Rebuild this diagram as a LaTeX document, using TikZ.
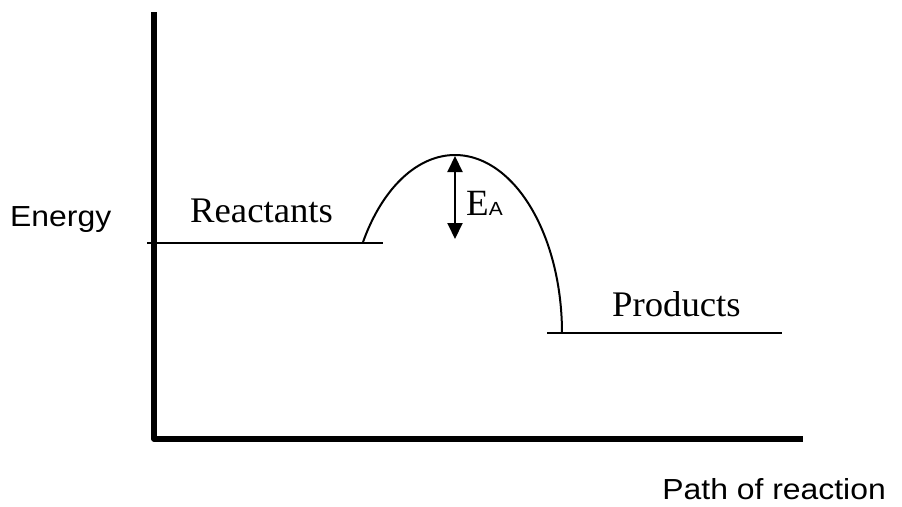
\documentclass[tikz,border=0pt]{standalone}
\usepackage{fontspec}
\setmainfont{Liberation Serif}
\newfontfamily\arialfont[FakeStretch=1.1]{Liberation Sans}
\newfontfamily\timesfont[FakeStretch=1.02]{Liberation Serif}
\usetikzlibrary{arrows.meta,positioning}

\begin{document}
\begin{tikzpicture}[x=1pt, y=-1pt,
    axis/.style={line width=5.5pt, line join=round},
    level/.style={line width=2pt},
    label/.style={inner sep=0pt, anchor=base west, font=\timesfont\fontsize{36}{36}\selectfont},
    axlabel/.style={inner sep=0pt, font=\arialfont\fontsize{29}{29}\selectfont}]
  \useasboundingbox (0,0) rectangle (902,506);

  % axes
  \coordinate (top) at (154,12);
  \coordinate (origin) at (154,439);
  \coordinate (right) at (803,439);
  \draw[axis] (top) -- (origin) -- (right);
  \node[axlabel, anchor=base west] (energy) at (10,226) {Energy};
  \node[axlabel, anchor=base east] (path) at (886,499) {Path of reaction};

  % energy levels
  \coordinate (r1) at (147,243);
  \coordinate (r2) at (383,243);
  \coordinate (p1) at (547,333);
  \coordinate (p2) at (782,333);
  \draw[level] (r1) -- (r2);
  \draw[level] (p1) -- (p2);
  \node[label] (reac) at (190,222) {Reactants};
  \node[label] (prod) at (612,316) {Products};

  % hump
  \draw[level] plot[domain=149.6:0, samples=60, smooth]
    ({455+107*cos(\x)}, {333-178*sin(\x)});
  \coordinate (peak) at (455,156);
  \coordinate (base) at (455,239);
  \draw[{Triangle[length=16pt,width=15pt]}-{Triangle[length=16pt,width=15pt]}, line width=2pt]
    (peak) -- (base);
  \node[inner sep=0pt, anchor=base west] (ea) at (466,215)
    {\fontsize{37}{37}\selectfont E{\arialfont\fontsize{19}{19}\selectfont A}};
\end{tikzpicture}
\end{document}
